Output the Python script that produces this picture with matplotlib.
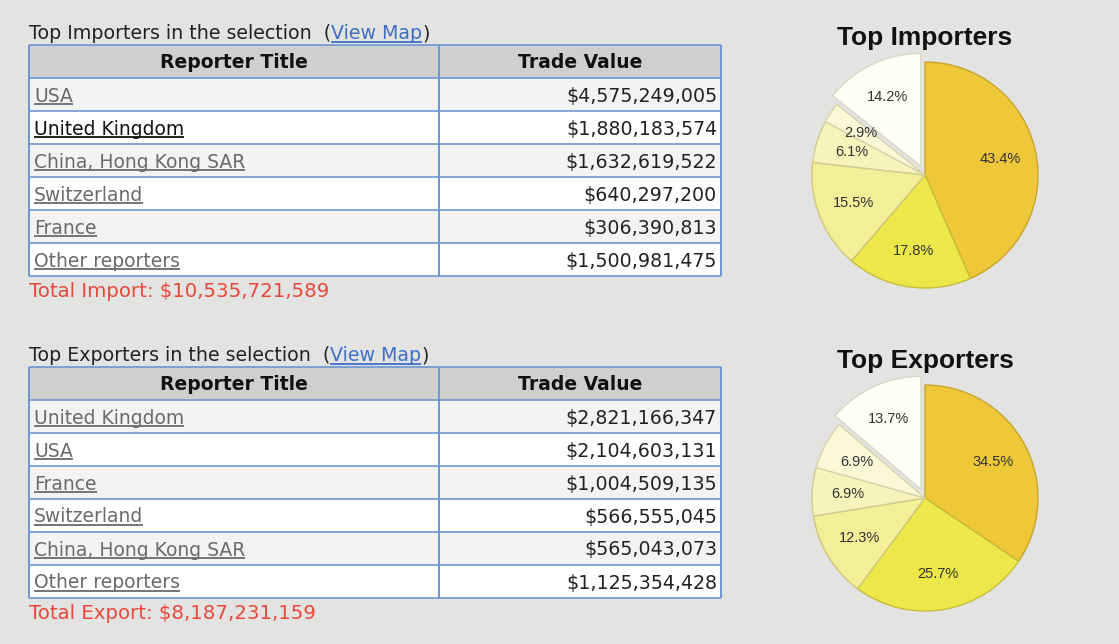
import matplotlib
matplotlib.use("Agg")
import matplotlib.pyplot as plt
from matplotlib.patches import Rectangle

# ---------------- data ----------------
imp_countries = ["USA", "United Kingdom", "China, Hong Kong SAR", "Switzerland", "France", "Other reporters"]
imp_values = [4575249005, 1880183574, 1632619522, 640297200, 306390813, 1500981475]
imp_total = 10535721589

exp_countries = ["United Kingdom", "USA", "France", "Switzerland", "China, Hong Kong SAR", "Other reporters"]
exp_values = [2821166347, 2104603131, 1004509135, 566555045, 565043073, 1125354428]
exp_total = 8187231159

headers = ["Reporter Title", "Trade Value"]
# ---------------------------------------

W, H = 1119, 644
BG = "#e3e4e1"
BORDER = "#6e96d0"
HEAD_BG = "#cfcfcf"
ROW_BG = ["#f3f3f3", "#ffffff"]
LINK = "#6a6a6a"
RED = "#e8483c"
SLICE_COLORS = ["#efc83a", "#ece84a", "#f3ef98", "#f6f3bb", "#faf8d6", "#fffff3"]
SLICE_EDGES = ["#c9a42c", "#c7bd3a", "#cfc77a", "#d2cc95", "#d8d3aa", "#d8d8c8"]

fig = plt.figure(figsize=(W / 100, H / 100), dpi=100, facecolor=BG)
ax = fig.add_axes([0, 0, 1, 1])
ax.set_xlim(0, W)
ax.set_ylim(H, 0)
ax.axis("off")

TFONT = "DejaVu Sans"
FS = 13.5
TITLE_FS = 13.7

links = []  # (text artist, color)

def draw_block(top, title_word, countries, values, total, total_word, dark_idx=None):
    x0, xm, x1 = 29, 439, 721
    rh = 33
    ty = top - 6
    # title line
    t = ax.text(x0, ty, f"Top {title_word} in the selection  (", fontsize=TITLE_FS,
                family=TFONT, color="#222222", va="baseline", ha="left")
    fig.canvas.draw()
    bb = t.get_window_extent().transformed(ax.transData.inverted())
    vm = ax.text(bb.x1, ty, "View Map", fontsize=TITLE_FS, family=TFONT,
                 color="#3f6fc6", va="baseline", ha="left")
    links.append((vm, "#3f6fc6"))
    fig.canvas.draw()
    bb2 = vm.get_window_extent().transformed(ax.transData.inverted())
    ax.text(bb2.x1, ty, ")", fontsize=TITLE_FS, family=TFONT, color="#222222",
            va="baseline", ha="left")
    # header
    ax.add_patch(Rectangle((x0, top), x1 - x0, rh - 1, facecolor=HEAD_BG, edgecolor="none"))
    ax.text((x0 + xm) / 2, top + 23, headers[0], fontsize=FS, family=TFONT, weight="bold",
            color="#111111", ha="center", va="baseline")
    ax.text((xm + x1) / 2, top + 23, headers[1], fontsize=FS, family=TFONT, weight="bold",
            color="#111111", ha="center", va="baseline")
    # rows
    for i, (c, v) in enumerate(zip(countries, values)):
        y = top + rh * (i + 1)
        ax.add_patch(Rectangle((x0, y), x1 - x0, rh, facecolor=ROW_BG[i % 2], edgecolor="none"))
        col = "#111111" if i == dark_idx else LINK
        tt = ax.text(x0 + 5, y + 23.5, c, fontsize=FS, family=TFONT, color=col,
                     ha="left", va="baseline")
        links.append((tt, col))
        ax.text(x1 - 4, y + 23.5, f"${v:,}", fontsize=FS + 0.2, family=TFONT, color="#222222",
                ha="right", va="baseline")
    bottom = top + rh * (len(countries) + 1)
    # grid lines
    for i in range(len(countries) + 2):
        y = top + rh * i
        ax.plot([x0, x1], [y, y], color=BORDER, lw=1.2, solid_capstyle="butt")
    for x in (x0, xm, x1):
        ax.plot([x, x], [top, bottom], color=BORDER, lw=1.4, solid_capstyle="butt")
    ax.text(x0, bottom + 21, f"Total {total_word}: ${total:,}", fontsize=14.2, family=TFONT,
            color=RED, ha="left", va="baseline")


draw_block(45, "Importers", imp_countries, imp_values, imp_total, "Import", dark_idx=1)
draw_block(367, "Exporters", exp_countries, exp_values, exp_total, "Export")

# underline the links
fig.canvas.draw()
inv = ax.transData.inverted()
for t, col in links:
    bb = t.get_window_extent().transformed(inv)
    yb = t.get_position()[1] + 2.5
    ax.plot([bb.x0, bb.x1], [yb, yb], color=col, lw=1.3, solid_capstyle="butt")


def draw_pie(cx, cy, r, values, title):
    R = 1.2
    size = 2 * R * r
    pax = fig.add_axes([(cx - size / 2) / W, 1 - (cy + size / 2) / H, size / W, size / H])
    pax.set_xlim(-R, R)
    pax.set_ylim(-R, R)
    pax.set_aspect("equal")
    pax.axis("off")
    explode = [0] * (len(values) - 1) + [0.085]
    wedges, texts, autotexts = pax.pie(
        values, colors=SLICE_COLORS, startangle=90, counterclock=False, explode=explode,
        autopct="%1.1f%%", pctdistance=0.68, radius=1.0,
        textprops=dict(fontsize=10.5, family="Liberation Sans", color="#333333"),
        wedgeprops=dict(linewidth=1.0))
    for w, ec in zip(wedges, SLICE_EDGES):
        w.set_edgecolor(ec)
    pax.set_xlim(-R, R)
    pax.set_ylim(-R, R)
    ax.text(cx, cy - r - 17, title, fontsize=19, family="Liberation Sans", weight="bold",
            color="#111111", ha="center", va="baseline")


draw_pie(925, 175, 113, imp_values, "Top Importers")
draw_pie(925, 498, 113, exp_values, "Top Exporters")

fig.savefig("out.png", dpi=100, facecolor=BG)
